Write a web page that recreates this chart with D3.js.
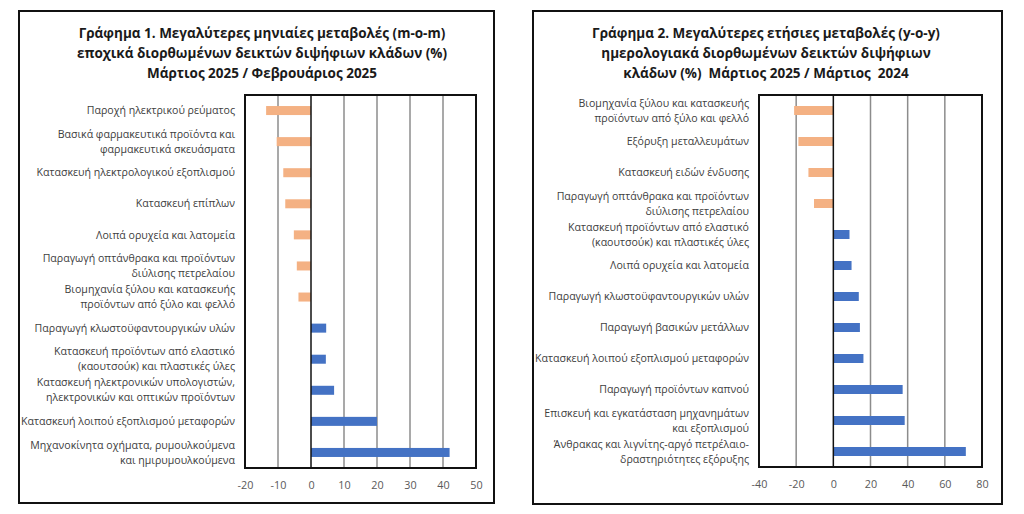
<!DOCTYPE html>
<html>
<head>
<meta charset="utf-8">
<script src="https://cdn.jsdelivr.net/npm/d3@7"></script>
<style>
  body { margin: 0; background: #fff; }
  text { font-family: "Open Sans", "Noto Sans", sans-serif; white-space: pre; }
</style>
</head>
<body>
<div id="chart"></div>
<script>
// Γράφημα 1 - μηνιαίες μεταβολές (m-o-m)
var momTitle = ["Γράφημα 1. Μεγαλύτερες μηνιαίες μεταβολές (m-o-m)",
                "εποχικά διορθωμένων δεικτών διψήφιων κλάδων (%)",
                "Μάρτιος 2025 / Φεβρουάριος 2025"];
var momLabels = [
  "Παροχή ηλεκτρικού ρεύματος",
  "Βασικά φαρμακευτικά προϊόντα και\nφαρμακευτικά σκευάσματα",
  "Κατασκευή ηλεκτρολογικού εξοπλισμού",
  "Κατασκευή επίπλων",
  "Λοιπά ορυχεία και λατομεία",
  "Παραγωγή οπτάνθρακα και προϊόντων\nδιύλισης πετρελαίου",
  "Βιομηχανία ξύλου και κατασκευής\nπροϊόντων από ξύλο και φελλό",
  "Παραγωγή κλωστοϋφαντουργικών υλών",
  "Κατασκευή προϊόντων από ελαστικό\n(καουτσούκ) και πλαστικές ύλες",
  "Κατασκευή ηλεκτρονικών υπολογιστών,\nηλεκτρονικών και οπτικών προϊόντων",
  "Κατασκευή λοιπού εξοπλισμού μεταφορών",
  "Μηχανοκίνητα οχήματα, ρυμουλκούμενα\nκαι ημιρυμουλκούμενα"
];
var momValues = [-13.6, -10.4, -8.4, -7.8, -5.2, -4.3, -3.8, 4.6, 4.5, 7.0, 20.0, 42.0];
var momTicks = [-20, -10, 0, 10, 20, 30, 40, 50];

// Γράφημα 2 - ετήσιες μεταβολές (y-o-y)
var yoyTitle = ["Γράφημα 2. Μεγαλύτερες ετήσιες μεταβολές (y-o-y)",
                "ημερολογιακά διορθωμένων δεικτών διψήφιων",
                "κλάδων (%)  Μάρτιος 2025 / Μάρτιος  2024"];
var yoyLabels = [
  "Βιομηχανία ξύλου και κατασκευής\nπροϊόντων από ξύλο και φελλό",
  "Εξόρυξη μεταλλευμάτων",
  "Κατασκευή ειδών ένδυσης",
  "Παραγωγή οπτάνθρακα και προϊόντων\nδιύλισης πετρελαίου",
  "Κατασκευή προϊόντων από ελαστικό\n(καουτσούκ) και πλαστικές ύλες",
  "Λοιπά ορυχεία και λατομεία",
  "Παραγωγή κλωστοϋφαντουργικών υλών",
  "Παραγωγή βασικών μετάλλων",
  "Κατασκευή λοιπού εξοπλισμού μεταφορών",
  "Παραγωγή προϊόντων καπνού",
  "Επισκευή και εγκατάσταση μηχανημάτων\nκαι εξοπλισμού",
  "Άνθρακας και λιγνίτης-αργό πετρέλαιο-\nδραστηριότητες εξόρυξης"
];
var yoyValues = [-21.1, -18.8, -13.4, -10.4, 8.7, 9.8, 13.7, 14.3, 16.2, 37.3, 38.4, 71.3];
var yoyTicks = [-40, -20, 0, 20, 40, 60, 80];

var orange = "#f4b183", blue = "#4472c4";

var svg = d3.select("#chart").append("svg")
    .attr("width", 1024)
    .attr("height", 514);

function drawPanel(p) {
    var g = svg.append("g");

    // outer frame
    g.append("rect")
        .attr("x", p.box[0]).attr("y", p.box[1])
        .attr("width", p.box[2] - p.box[0]).attr("height", p.box[3] - p.box[1])
        .attr("fill", "none").attr("stroke", "#111").attr("stroke-width", 2);

    // title
    g.selectAll(".title").data(p.title).enter().append("text")
        .attr("x", p.titleX)
        .attr("y", function(d, i) { return 38 + i * 20; })
        .attr("text-anchor", "middle")
        .style("font-size", "13.5px")
        .style("font-weight", "bold")
        .attr("fill", "#1a1a1a")
        .text(function(d) { return d; });

    var x = d3.scaleLinear().domain(p.domain).range([p.plot[0], p.plot[1]]);
    var y = d3.scaleBand().domain(d3.range(p.values.length))
        .range([p.plot[2], p.plot[3]])
        .paddingInner(0.71).paddingOuter(0.355);

    // gridlines
    g.selectAll(".grid").data(p.ticks.filter(function(t) { return t !== 0; })).enter().append("line")
        .attr("x1", function(d) { return x(d); }).attr("x2", function(d) { return x(d); })
        .attr("y1", p.plot[2]).attr("y2", p.plot[3])
        .attr("stroke", "#8c8c8c").attr("stroke-width", 1.5);

    // bars
    g.selectAll(".bar").data(p.values).enter().append("rect")
        .attr("x", function(d) { return x(Math.min(0, d)); })
        .attr("y", function(d, i) { return y(i); })
        .attr("width", function(d) { return Math.abs(x(d) - x(0)); })
        .attr("height", y.bandwidth())
        .attr("fill", function(d) { return d < 0 ? orange : blue; });

    // zero line
    g.append("line")
        .attr("x1", x(0)).attr("x2", x(0))
        .attr("y1", p.plot[2]).attr("y2", p.plot[3])
        .attr("stroke", "#111").attr("stroke-width", 1.5);

    // plot frame
    g.append("rect")
        .attr("x", p.plot[0]).attr("y", p.plot[2])
        .attr("width", p.plot[1] - p.plot[0]).attr("height", p.plot[3] - p.plot[2])
        .attr("fill", "none").attr("stroke", "#111").attr("stroke-width", 2);

    // category labels
    var lab = g.selectAll(".lab").data(p.labels).enter().append("text")
        .attr("text-anchor", "end")
        .attr("fill", "#404040")
        .style("font-size", "10.6px")
        .attr("transform", function(d, i) {
            return "translate(" + p.labelX + "," + (y(i) + y.bandwidth() / 2) + ")";
        });
    lab.each(function(d) {
        var lines = d.split("\n");
        var t = d3.select(this);
        lines.forEach(function(l, k) {
            t.append("tspan")
                .attr("x", 0)
                .attr("y", (k - (lines.length - 1) / 2) * 15 + 3.7)
                .text(l);
        });
    });

    // x axis
    var axis = g.append("g")
        .attr("transform", "translate(0," + (p.plot[3] + 10) + ")")
        .call(d3.axisBottom(x).tickValues(p.ticks).tickSize(0)
            .tickFormat(function(d) { return String(d); }));
    axis.select(".domain").remove();
    axis.selectAll("text")
        .attr("fill", "#595959")
        .style("font-size", "10.8px")
        .style("font-family", "'Open Sans', sans-serif");
}

drawPanel({
    box: [19, 11, 494, 503],
    title: momTitle,
    titleX: 262,
    plot: [245, 476, 95, 468],
    domain: [-20, 50],
    ticks: momTicks,
    values: momValues,
    labels: momLabels,
    labelX: 235
});

drawPanel({
    box: [533, 11, 1002, 504],
    title: yoyTitle,
    titleX: 766,
    plot: [759, 982, 95, 467],
    domain: [-40, 80],
    ticks: yoyTicks,
    values: yoyValues,
    labels: yoyLabels,
    labelX: 749
});
</script>
</body>
</html>
